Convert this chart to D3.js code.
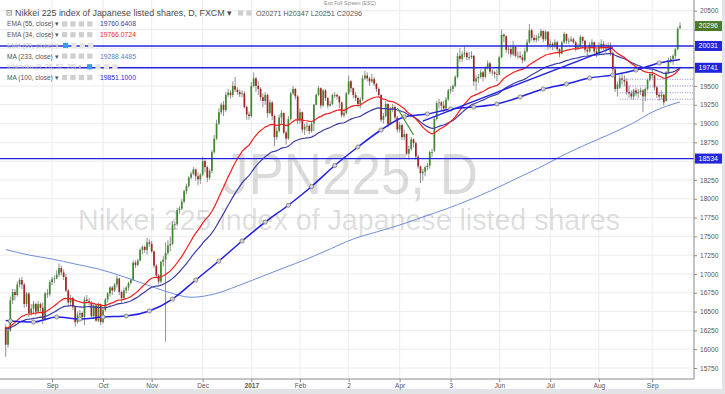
<!DOCTYPE html>
<html>
<head>
<meta charset="utf-8">
<script src="https://cdn.jsdelivr.net/npm/d3@7"></script>
<style>
html, body { margin: 0; padding: 0; background: #e1e3e7; }
svg { display: block; font-family: "Liberation Sans", Arial, sans-serif; }
</style>
</head>
<body>
<script>
// trading calendar (FXCM JPN225 daily bars)
const firstDay = "2016-08-04";
const lastDay = "2017-09-19";
const closedDays = ["2016-12-26", "2017-01-02"];

// daily candles [open, high, low, close], one line block per month
const candles = [
  // Aug 2016
  [16290,16330,15900,16060],[16060,16300,16020,16250],[16250,16700,16230,16650],[16650,16800,16600,16760],
  [16760,16800,16650,16720],[16720,16900,16700,16860],[16860,16950,16820,16920],[16920,16960,16800,16860],
  [16860,16880,16550,16600],[16600,16760,16560,16740],[16740,16760,16430,16480],[16480,16600,16450,16540],
  [16540,16640,16480,16600],[16600,16620,16450,16500],[16500,16640,16480,16600],[16600,16620,16500,16550],
  [16550,16620,16330,16400],[16400,16760,16380,16740],[16740,16800,16680,16730],[16730,16920,16700,16890],
  // Sep 2016
  [16890,16960,16850,16930],[16930,16980,16880,16940],[16940,17050,16930,16990],[16990,17140,16960,17080],
  [17080,17110,16980,17020],[17020,17060,16920,16960],[16960,17000,16760,16780],[16780,16800,16560,16620],
  [16620,16720,16580,16680],[16680,16700,16520,16560],[16560,16580,16300,16360],[16360,16500,16340,16460],
  [16460,16520,16400,16480],[16480,16500,16380,16430],[16430,16700,16320,16660],[16660,16720,16600,16640],
  [16640,16680,16580,16620],[16620,16640,16420,16440],[16440,16600,16400,16580],[16580,16600,16360,16380],
  [16380,16620,16360,16600],[16600,16610,16320,16360],
  // Oct 2016
  [16360,16540,16340,16520],[16520,16680,16500,16660],[16660,16760,16620,16740],[16740,16840,16700,16820],
  [16820,16840,16720,16780],[16780,16880,16760,16860],[16860,16980,16820,16940],[16940,16950,16720,16760],
  [16760,16780,16620,16680],[16680,16820,16660,16780],[16780,16840,16740,16820],[16820,16900,16780,16880],
  [16880,16940,16860,16920],[16920,17180,16910,17150],[17150,17180,17080,17120],[17120,17200,17100,17180],
  [17180,17340,17170,17320],[17320,17380,17260,17360],[17360,17380,17280,17320],[17320,17480,17260,17420],
  [17420,17460,17360,17400],
  // Nov 2016
  [17400,17440,17280,17300],[17300,17310,17080,17110],[17110,17130,16940,16980],[16980,17000,16860,16900],
  [16900,17180,16880,17160],[17160,17240,17100,17190],[17190,17420,16100,17280],[17280,17450,17250,17380],
  [17380,17500,17300,17400],[17400,17700,17380,17660],[17660,17700,17590,17660],[17660,17880,17640,17850],
  [17850,17900,17800,17870],[17870,18000,17850,17960],[17960,18120,17940,18100],[18100,18200,18060,18170],
  [18170,18300,18140,18280],[18280,18360,18260,18330],[18330,18420,18310,18390],[18390,18400,18240,18300],
  [18300,18350,18180,18260],[18260,18340,18200,18320],
  // Dec 2016
  [18320,18560,18300,18500],[18500,18520,18350,18420],[18420,18440,18220,18280],[18280,18400,18250,18370],
  [18370,18650,18340,18620],[18620,18850,18600,18800],[18800,19050,18780,19000],[19000,19200,18980,19150],
  [19150,19280,19120,19250],[19250,19300,19100,19180],[19180,19420,19150,19380],[19380,19460,19350,19410],
  [19410,19440,19330,19380],[19380,19560,19350,19500],[19500,19620,19420,19450],[19450,19480,19380,19420],
  [19420,19450,19350,19390],[19390,19440,19350,19400],[19400,19430,19200,19220],[19220,19240,19050,19120],
  [19120,19160,19050,19100],
  // Jan 2017
  [19100,19550,19080,19500],[19500,19680,19480,19600],[19600,19620,19420,19500],[19500,19560,19380,19460],
  [19460,19480,19300,19350],[19350,19400,19220,19300],[19300,19420,19250,19380],[19380,19400,19080,19140],
  [19140,19320,19120,19280],[19280,19300,19050,19100],[19100,19120,18700,18820],[18820,18950,18780,18900],
  [18900,19120,18880,19080],[19080,19180,19000,19140],[19140,19150,18860,18880],[18880,18900,18720,18800],
  [18800,19100,18780,19060],[19060,19420,19040,19400],[19400,19500,19380,19460],[19460,19470,19320,19360],
  [19360,19380,18990,19040],
  // Feb 2017
  [19040,19200,19000,19150],[19150,19160,18880,18920],[18920,19000,18850,18960],[18960,19020,18900,18970],
  [18970,18990,18860,18900],[18900,19020,18880,19000],[19000,19260,18900,19250],[19250,19400,19240,19380],
  [19380,19500,19360,19470],[19470,19480,19200,19240],[19240,19460,19220,19440],[19440,19460,19300,19340],
  [19340,19350,19200,19240],[19240,19300,19220,19260],[19260,19400,19240,19380],[19380,19420,19340,19380],
  [19380,19400,19320,19360],[19360,19370,19200,19280],[19280,19290,19080,19110],[19110,19200,19080,19140],
  // Mar 2017
  [19140,19420,19120,19400],[19400,19640,19380,19560],[19560,19580,19420,19470],[19470,19480,19340,19380],
  [19380,19420,19300,19340],[19340,19360,19220,19260],[19260,19350,19200,19320],[19320,19640,19300,19600],
  [19600,19700,19580,19640],[19640,19680,19560,19600],[19600,19620,19500,19560],[19560,19660,19540,19590],
  [19590,19620,19500,19530],[19530,19540,19420,19460],[19460,19480,19360,19380],[19380,19390,19020,19050],
  [19050,19140,19000,19100],[19100,19300,19080,19260],[19260,19270,18950,18990],[18990,19220,18980,19200],
  [19200,19260,19150,19220],[19220,19240,19050,19080],[19080,19100,18880,18920],
  // Apr 2017
  [18920,19020,18880,18980],[18980,19000,18780,18820],[18820,18920,18780,18860],[18860,18870,18580,18600],
  [18600,18700,18520,18660],[18660,18820,18640,18790],[18790,18800,18680,18740],[18740,18760,18520,18560],
  [18560,18580,18400,18430],[18430,18440,18210,18340],[18340,18400,18240,18360],[18360,18440,18300,18420],
  [18420,18480,18380,18440],[18440,18640,18400,18620],[18620,18660,18560,18620],[18640,19100,18620,19060],
  [19060,19300,19040,19270],[19270,19330,19200,19280],[19280,19300,19180,19240],[19240,19300,19150,19200],
  // May 2017
  [19200,19350,19180,19320],[19320,19460,19300,19440],[19440,19500,19400,19460],[19460,19520,19420,19500],
  [19500,19640,19480,19620],[19620,19940,19600,19900],[19900,20000,19820,19860],[19860,19960,19820,19920],
  [19920,20020,19880,19940],[19940,19960,19840,19880],[19880,19950,19840,19880],[19880,19960,19860,19900],
  [19900,19910,19500,19560],[19560,19640,19440,19600],[19600,19660,19540,19620],[19620,19720,19600,19680],
  [19680,19700,19560,19620],[19620,19760,19600,19740],[19740,19840,19720,19800],[19800,19820,19660,19690],
  [19690,19720,19640,19680],[19680,19700,19600,19660],[19660,19720,19560,19650],
  // Jun 2017
  [19650,19900,19640,19880],[19880,20250,19870,20180],[20180,20200,20080,20160],[20160,20170,19940,19980],
  [19980,20020,19920,19990],[19990,20030,19880,19920],[19920,20100,19900,20020],[20020,20030,19880,19900],
  [19900,19960,19860,19900],[19900,19960,19860,19880],[19880,19920,19800,19840],[19840,20000,19820,19960],
  [19960,20120,19940,20080],[20080,20320,20060,20240],[20240,20260,20100,20140],[20140,20180,20080,20110],
  [20110,20180,20080,20140],[20140,20200,20100,20160],[20160,20260,20140,20230],[20230,20240,20080,20120],
  [20120,20240,20100,20220],[20220,20230,19980,20040],
  // Jul 2017
  [20040,20120,20000,20060],[20060,20080,19980,20030],[20030,20120,20000,20080],[20080,20100,19960,19990],
  [19990,20000,19880,19930],[19930,20100,19920,20080],[20080,20220,20060,20190],[20190,20200,20060,20100],
  [20100,20140,20060,20100],[20100,20160,20080,20120],[20120,20140,20060,20080],[20080,20100,19960,20000],
  [20000,20060,19980,20020],[20020,20180,20000,20150],[20150,20160,20060,20100],[20100,20110,19940,19980],
  [19980,20000,19900,19960],[19960,20080,19940,20050],[20050,20120,20020,20080],[20080,20090,19920,19960],
  [19960,20000,19880,19930],
  // Aug 2017
  [19930,20080,19920,20020],[20020,20120,19980,20060],[20060,20100,19980,20020],[20020,20060,19940,20000],
  [20000,20080,19980,20040],[20040,20080,19900,19940],[19940,19960,19680,19720],[19720,19760,19420,19460],
  [19460,19560,19360,19520],[19480,19640,19460,19600],[19600,19660,19520,19580],[19580,19640,19500,19560],
  [19560,19600,19380,19420],[19420,19500,19340,19400],[19400,19440,19320,19360],[19360,19460,19320,19440],
  [19440,19480,19360,19400],[19400,19460,19340,19420],[19420,19480,19380,19440],[19440,19460,19150,19360],
  [19360,19480,19300,19460],[19460,19600,19440,19580],[19580,19680,19560,19660],
  // Sep 2017
  [19660,19720,19600,19640],[19640,19650,19440,19480],[19480,19500,19340,19380],[19380,19420,19300,19360],
  [19360,19440,19320,19380],[19380,19400,19240,19280],[19300,19700,19290,19680],[19680,19880,19660,19840],
  [19840,19900,19800,19860],[19860,19920,19780,19900],[19900,20000,19860,19990],[19990,20280,19970,20260],
  [20271,20347,20251,20296]
];

// EMA starting levels read at the first bar
const ema34Start = 16300;
const ema55Start = 16280;

// MA(100): [bar, value]; markers sit on bars 2, 12, 22 ...
const ma100 = [[0,16380],[2,16375],[12,16361],[22,16428],[32,16401],[42,16428],[52,16441],[62,16508],
  [72,16667],[82,16920],[92,17172],[102,17438],[112,17690],[122,17914],[132,18163],[142,18442],
  [152,18688],[162,18914],[172,19087],[182,19127],[192,19193],[202,19220],[212,19260],[222,19353],
  [232,19459],[242,19526],[252,19605],[262,19645],[272,19711],[282,19805],[291,19851]];

// MA(233): [bar, value]
const ma233 = [[0,17325],[10,17252],[20,17199],[30,17132],[40,17066],[50,16973],[60,16866],[70,16760],
  [80,16690],[90,16733],[100,16840],[110,16960],[120,17080],[130,17199],[140,17332],[150,17465],
  [160,17558],[170,17651],[180,17757],[190,17864],[200,17983],[210,18116],[220,18263],[230,18409],
  [240,18569],[250,18715],[260,18848],[270,18994],[280,19167],[291,19287]];

// drawn objects
const levels = [20031, 19741, 18534];
const dottedLevels = [19588, 19499, 19410, 19322];
const dottedFrom = "2017-08-14";
const blueTrend = [["2017-04-17", 19033], ["2017-08-09", 20010]];
const greenTrend = [["2017-03-31", 19206], ["2017-04-11", 18847]];
const lastPrice = 20296;

// axis labels
const monthTicks = [["2016-09-01","Sep"],["2016-10-03","Oct"],["2016-11-01","Nov"],["2016-12-01","Dec"],
  ["2017-01-03","2017"],["2017-02-01","Feb"],["2017-03-02","2"],["2017-04-03","Apr"],["2017-05-03","3"],
  ["2017-06-01","Jun"],["2017-07-03","Jul"],["2017-08-01","Aug"],["2017-09-01","Sep"]];
const priceTicks = d3.range(15750, 20501, 250);

// legend
const titleText = "Nikkei 225 index of Japanese listed shares, D, FXCM";
const ohlcText = "O20271 H20347 L20251 C20296";
const legendRows = [
  {name: "EMA (55, close)", value: "19760.6408", color: "#3b3ba6", hidden: false},
  {name: "EMA (34, close)", value: "19766.0724", color: "#f21d1d", hidden: false},
  {name: "EMA (89, close)", value: "", color: "#999", hidden: true, eye: 63},
  {name: "MA (233, close)", value: "19288.4485", color: "#5a7fcf", hidden: false},
  {name: "Ichimoku (9, 26, 52, 26)", value: "", color: "#999", hidden: true, eye: 87},
  {name: "MA (100, close)", value: "19851.1000", color: "#1f1fe6", hidden: false}
];

const parse = d3.utcParse("%Y-%m-%d"), fmt = d3.utcFormat("%Y-%m-%d");
const days = d3.utcDays(parse(firstDay), d3.utcDay.offset(parse(lastDay), 1))
  .filter(d => d.getUTCDay() % 6 !== 0 && !closedDays.includes(fmt(d)))
  .map(fmt);
const bars = days.map((d, i) => ({date: d, o: candles[i][0], h: candles[i][1], l: candles[i][2], c: candles[i][3]}));
const idx = date => days.indexOf(date);

function ema(values, n, start) {
  const k = 2 / (n + 1);
  let e = start;
  return values.map((v, i) => [i, (e = e + k * (v - e))]);
}
const closes = bars.map(b => b.c);
const ema34 = ema(closes, 34, ema34Start);
const ema55 = ema(closes, 55, ema55Start);

const width = 725, height = 394;
const plotW = 694, plotH = 379;

const x = d3.scaleLinear().domain([0, bars.length - 1]).range([5.7, 680]);
const y = d3.scaleLinear().domain([15750, 20500]).range([368, 10.7]);

const svg = d3.select("body").append("svg").attr("width", width).attr("height", height);
svg.append("rect").attr("width", width).attr("height", height).attr("fill", "#e1e3e7");
svg.append("rect").attr("width", 722).attr("height", 389).attr("fill", "#fff");
svg.append("clipPath").attr("id", "plot").append("rect").attr("width", plotW).attr("height", plotH);

const plot = svg.append("g").attr("clip-path", "url(#plot)");

// grid
plot.selectAll(".hg").data(priceTicks).join("line")
  .attr("x1", 0).attr("x2", plotW).attr("y1", d => y(d)).attr("y2", d => y(d))
  .attr("stroke", "#ececec").attr("stroke-width", 1);
plot.selectAll(".vg").data(monthTicks).join("line")
  .attr("x1", d => x(idx(d[0]))).attr("x2", d => x(idx(d[0])))
  .attr("y1", 0).attr("y2", plotH)
  .attr("stroke", "#ececec").attr("stroke-width", 1);

// watermark
plot.append("text").attr("x", 350).attr("y", 194).attr("text-anchor", "middle")
  .attr("font-size", 58).attr("textLength", 256).attr("lengthAdjust", "spacingAndGlyphs")
  .attr("fill", "#000").attr("fill-opacity", 0.14).text("JPN225, D");
plot.append("text").attr("x", 349).attr("y", 230).attr("text-anchor", "middle")
  .attr("font-size", 30).attr("textLength", 542).attr("lengthAdjust", "spacingAndGlyphs")
  .attr("fill", "#000").attr("fill-opacity", 0.14).text("Nikkei 225 index of Japanese listed shares");

// candles
const cg = plot.append("g");
cg.selectAll(".wick").data(bars).join("line")
  .attr("x1", (d, i) => x(i)).attr("x2", (d, i) => x(i))
  .attr("y1", d => y(d.h)).attr("y2", d => y(d.l))
  .attr("stroke", "#858585").attr("stroke-width", 0.9);
cg.selectAll(".body").data(bars).join("rect")
  .attr("x", (d, i) => x(i) - 0.85).attr("width", 1.7)
  .attr("y", d => y(Math.max(d.o, d.c)))
  .attr("height", d => Math.max(0.8, Math.abs(y(d.o) - y(d.c))))
  .attr("fill", d => d.c >= d.o ? "#3f8a2e" : "#a52323");

// indicators
const lineXY = d3.line().x(d => x(d[0])).y(d => y(d[1]));
const smooth = d3.line().x(d => x(d[0])).y(d => y(d[1])).curve(d3.curveMonotoneX);
plot.append("path").attr("d", smooth(ma233)).attr("fill", "none").attr("stroke", "#6d8fd8").attr("stroke-width", 1);
plot.append("path").attr("d", lineXY(ema55)).attr("fill", "none").attr("stroke", "#3b3ba6").attr("stroke-width", 1.2);
plot.append("path").attr("d", lineXY(ema34)).attr("fill", "none").attr("stroke", "#f21d1d").attr("stroke-width", 1.2);
plot.append("path").attr("d", smooth(ma100)).attr("fill", "none").attr("stroke", "#1f1fe6").attr("stroke-width", 1.5);
plot.selectAll(".mk").data(ma100.filter(d => (d[0] - 2) % 10 === 0)).join("circle")
  .attr("cx", d => x(d[0])).attr("cy", d => y(d[1])).attr("r", 2.1)
  .attr("fill", "#d2d2d2").attr("stroke", "#7a7a7a").attr("stroke-width", 0.8);

// drawings
plot.selectAll(".lvl").data(levels).join("line")
  .attr("x1", 0).attr("x2", plotW).attr("y1", d => y(d)).attr("y2", d => y(d))
  .attr("stroke", "#2424dc").attr("stroke-width", 1.4);
plot.selectAll(".dot").data(dottedLevels).join("line")
  .attr("x1", x(idx(dottedFrom))).attr("x2", plotW).attr("y1", d => y(d)).attr("y2", d => y(d))
  .attr("stroke", "#8d8de0").attr("stroke-width", 1).attr("stroke-dasharray", "1,1.5");
plot.append("line")
  .attr("x1", x(idx(blueTrend[0][0]))).attr("y1", y(blueTrend[0][1]))
  .attr("x2", x(idx(blueTrend[1][0]))).attr("y2", y(blueTrend[1][1]))
  .attr("stroke", "#1f1fe6").attr("stroke-width", 1.4);
plot.append("line")
  .attr("x1", x(idx(greenTrend[0][0]))).attr("y1", y(greenTrend[0][1]))
  .attr("x2", x(idx(greenTrend[1][0]))).attr("y2", y(greenTrend[1][1]))
  .attr("stroke", "#4c8c2c").attr("stroke-width", 1.2);

// right price axis
const hideNear = [lastPrice, ...levels];
const yAxis = svg.append("g").attr("transform", `translate(${plotW},0)`)
  .call(d3.axisRight(y).tickValues(priceTicks).tickSize(3).tickPadding(3).tickFormat(d3.format("d")));
yAxis.select(".domain").attr("d", `M0,0V${plotH}`).attr("stroke", "#8a8a8a");
yAxis.selectAll(".tick line").attr("stroke", "#8a8a8a");
yAxis.selectAll(".tick text").attr("font-size", 6.6).attr("fill", "#555").attr("font-family", "Liberation Sans, Arial, sans-serif")
  .style("display", d => hideNear.some(v => Math.abs(y(v) - y(d)) < 7) ? "none" : null);

// bottom time axis
const xAxis = svg.append("g").attr("transform", `translate(0,${plotH})`)
  .call(d3.axisBottom(x).tickValues(monthTicks.map(d => idx(d[0]))).tickSize(3).tickPadding(1.5)
    .tickFormat(i => monthTicks.find(m => idx(m[0]) === i)[1]));
xAxis.select(".domain").attr("d", `M0,0H${plotW}`).attr("stroke", "#8a8a8a");
xAxis.selectAll(".tick line").attr("stroke", "#8a8a8a");
xAxis.selectAll(".tick text").attr("font-size", 6.6).attr("fill", "#555").attr("font-family", "Liberation Sans, Arial, sans-serif")
  .attr("font-weight", (d, i) => monthTicks[i][1] === "2017" ? "bold" : null);

// price labels on the axis
const tags = [{v: lastPrice, fill: "#4b7a2a"}, ...levels.map(v => ({v, fill: "#2424dc"}))];
const tg = svg.selectAll(".tag").data(tags).join("g").attr("transform", d => `translate(695,${y(d.v)})`);
tg.append("rect").attr("x", 0).attr("y", -5).attr("width", 27).attr("height", 10).attr("fill", d => d.fill);
tg.append("text").attr("x", 3.5).attr("y", 2.4).attr("font-size", 7).attr("fill", "#fff").text(d => d.v);

// legend
const lg = svg.append("g");
function icons(g, x0, yc, n, faded) {
  for (let k = 0; k < n; k++) {
    g.append("rect").attr("x", x0 + k * 8.4).attr("y", yc - 2.6).attr("width", 5.2).attr("height", 5.2)
      .attr("fill", faded ? "#e4e4e4" : "#cfcfcf");
  }
}
lg.append("rect").attr("x", 7).attr("y", 10.5).attr("width", 4.6).attr("height", 4.6)
  .attr("fill", "none").attr("stroke", "#777").attr("stroke-width", 0.7);
lg.append("line").attr("x1", 8).attr("x2", 10.6).attr("y1", 12.8).attr("y2", 12.8).attr("stroke", "#777").attr("stroke-width", 0.7);
lg.append("text").attr("x", 15).attr("y", 16).attr("font-size", 8.9).attr("fill", "#4a4a4a")
  .text(titleText + " \u25BE");
icons(lg, 238, 13, 2, false);
lg.append("text").attr("x", 256).attr("y", 15.5).attr("font-size", 7.2).attr("fill", "#555").text(ohlcText);

legendRows.forEach((r, k) => {
  const yc = 24 + k * 10.7;
  lg.append("text").attr("x", 7).attr("y", yc + 2.4).attr("font-size", 6.6)
    .attr("fill", r.hidden ? "#c4c4c4" : "#555").text(r.name + " \u25BE");
  if (r.hidden) {
    lg.append("rect").attr("x", r.eye).attr("y", yc - 2.6).attr("width", 5.2).attr("height", 5.2).attr("fill", "#3a9be8");
    icons(lg, r.eye + 8.4, yc, 3, true);
  } else {
    icons(lg, 62, yc, 4, false);
    lg.append("text").attr("x", 100).attr("y", yc + 2.4).attr("font-size", 6.8).attr("fill", r.color).text(r.value);
  }
});

// full-screen hint at the top
svg.append("text").attr("x", 350).attr("y", 5).attr("text-anchor", "middle").attr("font-size", 5.2)
  .attr("fill", "#888").text("Exit Full Screen (ESC)");
</script>
</body>
</html>
